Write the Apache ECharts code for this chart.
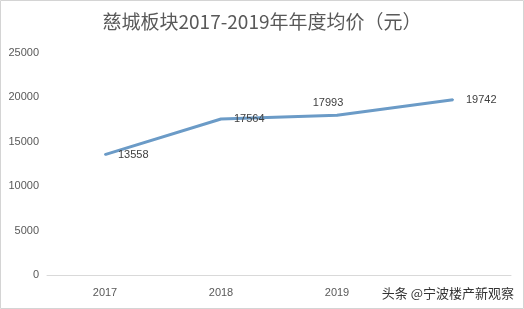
<!DOCTYPE html>
<html><head><meta charset="utf-8">
<script src="https://cdn.jsdelivr.net/npm/echarts@6/dist/echarts.min.js"></script>
<style>html,body{margin:0;padding:0;background:#fff}#c{width:524px;height:309px}</style>
</head><body><div id="c"></div>
<script>
const categories = ['2017', '2018', '2019', ''];
const prices = [13558, 17564, 17993, 19742];
const yTicks = [0, 5000, 10000, 15000, 20000, 25000];
const titleText = '慈城板块2017-2019年年度均价（元）';
const watermark = '头条 @宁波楼产新观察';

const labelPos = [
  {position: 'right', distance: 12},
  {position: 'right', distance: 12},
  {position: 'top', distance: 6, offset: [-9, 0]},
  {position: 'right', distance: 12}
];

const chart = echarts.init(document.getElementById('c'));
chart.setOption({
  animation: false,
  title: {text: titleText, left: 'center', top: 7,
    textStyle: {fontFamily: 'Noto Sans CJK SC', fontSize: 19, fontWeight: 'normal', color: '#595959'}},
  graphic: [
    {type: 'rect', shape: {x: 0.5, y: 0.5, width: 523, height: 308},
      style: {fill: 'none', stroke: '#d4d4d4', lineWidth: 1}, silent: true},
    {type: 'text', right: 10, bottom: 9,
      style: {text: watermark, fontFamily: 'Noto Sans CJK SC', fontSize: 13, fill: '#333'}}
  ],
  grid: {left: 47, right: 13, top: 53, bottom: 34},
  xAxis: {type: 'category', data: categories, boundaryGap: true,
    axisLine: {lineStyle: {color: '#d9d9d9'}}, axisTick: {show: false},
    axisLabel: {color: '#595959', fontSize: 11, fontFamily: 'Liberation Sans', margin: 12}},
  yAxis: {type: 'value', min: 0, max: 25000, interval: 5000,
    splitLine: {show: false}, axisLine: {show: false}, axisTick: {show: false},
    axisLabel: {color: '#595959', fontSize: 11, fontFamily: 'Liberation Sans', margin: 8,
      formatter: v => String(v)}},
  series: [{
    type: 'line', symbol: 'circle', symbolSize: 2, showSymbol: true,
    itemStyle: {color: '#6b9bc7'},
    lineStyle: {color: '#6b9bc7', width: 3},
    data: prices.map((v, i) => ({value: v, label: Object.assign({show: true}, labelPos[i])})),
    label: {show: true, color: '#404040', fontSize: 11, fontFamily: 'Liberation Sans'}
  }]
});
</script></body></html>
